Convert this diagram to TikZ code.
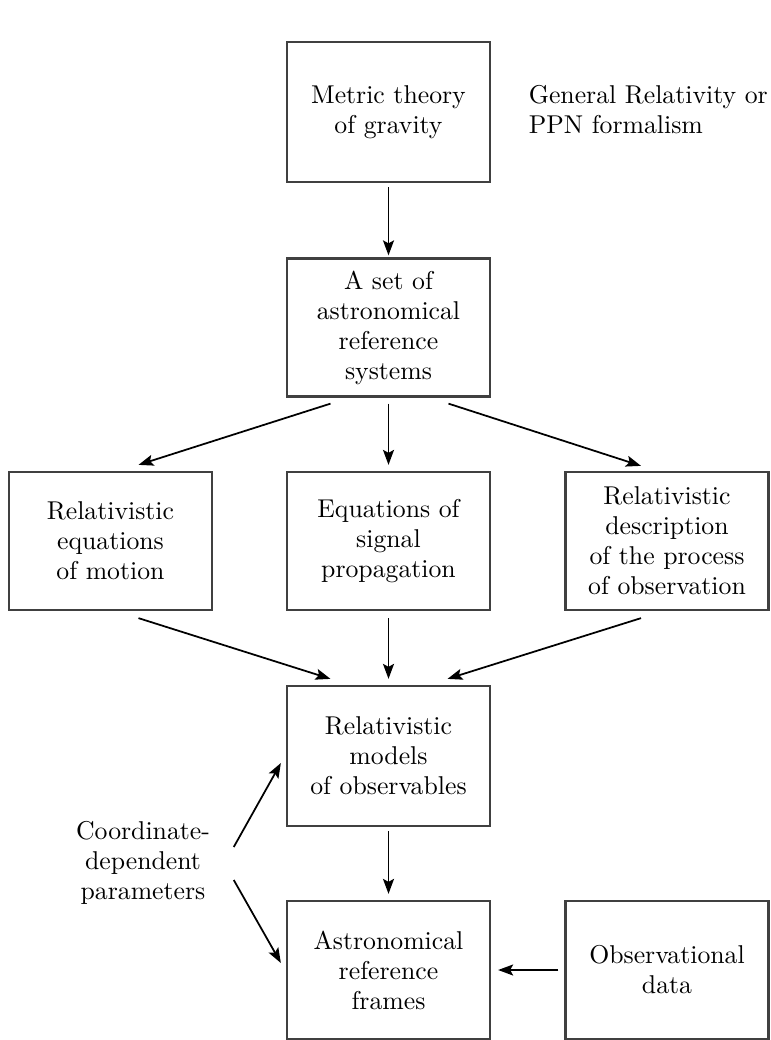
\documentclass[tikz,border=0pt]{standalone}
\usetikzlibrary{arrows.meta,calc}

\tikzset{
  box/.style={draw=black!75, line width=0.9pt, align=center, minimum width=81.2pt, minimum height=55.2pt, inner sep=2pt},
  arr/.style={line width=0.7pt, -{Stealth[length=6pt,width=4.4pt,inset=1.2pt]}},
}

\begin{document}
\begin{tikzpicture}[x=0.4pt,y=-0.4pt,font=\fontsize{10.3}{12}\selectfont]
\useasboundingbox (0,0) rectangle (771,1040);

%Shape: Boxes
\node[box, minimum height=56pt] (theory) at (388.5,112) {Metric theory\\of gravity};
\node[box] (sys) at (388.5,327.5) {A set of\\astronomical\\reference\\systems};
\node[box] (motion) at (110.5,541) {Relativistic\\equations\\of motion};
\node[box] (signal) at (388.5,541) {Equations of\\signal\\propagation};
\node[box] (obs) at (667,541) {Relativistic\\description\\of the process\\of observation};
\node[box, minimum height=56pt] (models) at (388.5,756) {Relativistic\\models\\of observables};
\node[box] (frames) at (388.5,970) {Astronomical\\reference\\frames};
\node[box] (data) at (667,970) {Observational\\data};

% Text Node
\node[anchor=west, align=left] (gr) at (520,110) {General Relativity or\\PPN formalism};
% Text Node
\node[align=center] (params) at (143,863) {Coordinate-\\dependent\\parameters};

%Straight Lines
\draw[arr] ($(theory.south)+(0,4)$) -- ($(sys.north)+(0,-2)$);
\draw[arr] ($(sys.south)+(-58,6)$) -- ($(motion.north)+(28,-6)$);
\draw[arr] ($(sys.south)+(0,6)$) -- ($(signal.north)+(0,-6)$);
\draw[arr] ($(sys.south)+(60,6)$) -- ($(obs.north)+(-26,-5)$);
\draw[arr] ($(motion.south)+(28,7)$) -- ($(models.north)+(-58,-6)$);
\draw[arr] ($(signal.south)+(0,7)$) -- ($(models.north)+(0,-6)$);
\draw[arr] ($(obs.south)+(-26,7)$) -- ($(models.north)+(59,-6)$);
\draw[arr] ($(models.south)+(0,4)$) -- ($(frames.north)+(0,-6)$);
\draw[arr] ($(data.west)+(-6,0)$) -- ($(frames.east)+(7,0)$);
\draw[arr] ($(params.east)+(15,-16)$) -- ($(models.west)+(-5,7)$);
\draw[arr] ($(params.east)+(15,17)$) -- ($(frames.west)+(-5,-7)$);

\end{tikzpicture}
\end{document}
